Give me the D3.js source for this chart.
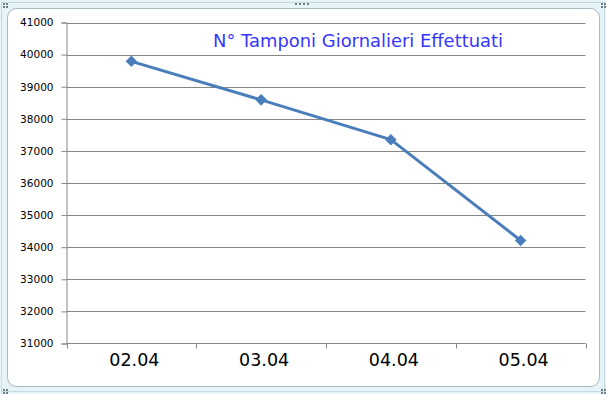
<!DOCTYPE html>
<html>
<head>
<meta charset="utf-8">
<script src="https://cdn.jsdelivr.net/npm/d3@7"></script>
<style>
  body { margin: 0; background: #e6f4f8; }
  svg { display: block; }
</style>
</head>
<body>
<div id="chart"></div>
<script>
// data
const days = ["02.04", "03.04", "04.04", "05.04"];
const tamponi = [39790, 38590, 37350, 34210];
const yTicks = [31000, 32000, 33000, 34000, 35000, 36000, 37000, 38000, 39000, 40000, 41000];
const title = "N° Tamponi Giornalieri Effettuati";

const W = 606, H = 394;
const plot = { left: 66.5, right: 585.5, top: 22.5, bottom: 343.5 };

const svg = d3.select("#chart")
    .append("svg")
        .attr("width", W)
        .attr("height", H);

// spreadsheet backdrop + chart frame
svg.append("rect")
    .attr("x", 0).attr("y", 0).attr("width", W).attr("height", H)
    .attr("fill", "#e6f4f8");
svg.append("rect")
    .attr("x", 1.5).attr("y", 2.5).attr("width", W - 3).attr("height", H - 5)
    .attr("fill", "none").attr("stroke", "#c4dbe3");
svg.append("rect")
    .attr("x", 7.5).attr("y", 8.5).attr("width", 592).attr("height", 378)
    .attr("rx", 9)
    .attr("fill", "#fff")
    .attr("stroke", "#a9b8c0");

// little resize handles
const handles = [[3, 3], [601, 3], [3, 389], [601, 389]];
svg.selectAll(".handle")
    .data(handles)
    .join("g")
        .attr("class", "handle")
        .attr("transform", d => `translate(${d[0]},${d[1]})`)
        .selectAll("rect")
        .data([[0, 0], [3, 0], [0, 3], [3, 3]])
        .join("rect")
            .attr("x", d => d[0]).attr("y", d => d[1])
            .attr("width", 2).attr("height", 2)
            .attr("fill", "#6f7f88");
svg.selectAll(".hdot")
    .data([0, 1, 2, 3])
    .join("rect")
        .attr("class", "hdot")
        .attr("x", d => 295 + d * 4).attr("y", 3)
        .attr("width", 2).attr("height", 2)
        .attr("fill", "#6f7f88");

const x = d3.scaleBand()
    .domain(days)
    .range([plot.left, plot.right]);

const y = d3.scaleLinear()
    .domain([31000, 41000])
    .range([plot.bottom, plot.top]);

// gridlines
svg.append("g")
    .selectAll("line")
    .data(yTicks.slice(1))
    .join("line")
        .attr("x1", plot.left).attr("x2", plot.right)
        .attr("y1", d => Math.round(y(d)) + 0.5)
        .attr("y2", d => Math.round(y(d)) + 0.5)
        .attr("stroke", "#868686");

// y axis
const yAxis = svg.append("g")
    .attr("transform", `translate(${plot.left},0)`)
    .call(d3.axisLeft(y).tickValues(yTicks).tickFormat(d3.format("d")).tickSizeOuter(0).tickSize(5).tickPadding(8));
yAxis.selectAll("line, path").attr("stroke", "#868686");
yAxis.selectAll("text")
    .attr("font-family", "DejaVu Sans, Verdana, sans-serif")
    .attr("font-size", "10.5px")
    .attr("fill", "#000");

// x axis with ticks between categories
const xAxis = svg.append("g")
    .attr("transform", `translate(0,${plot.bottom})`);
xAxis.append("line")
    .attr("x1", plot.left).attr("x2", plot.right)
    .attr("stroke", "#868686");
xAxis.selectAll(".tk")
    .data(days.concat(["end"]))
    .join("line")
        .attr("class", "tk")
        .attr("x1", (d, i) => Math.round(plot.left + i * x.bandwidth()) + 0.5)
        .attr("x2", (d, i) => Math.round(plot.left + i * x.bandwidth()) + 0.5)
        .attr("y1", 0).attr("y2", 5)
        .attr("stroke", "#868686");
xAxis.selectAll("text")
    .data(days)
    .join("text")
        .attr("x", d => x(d) + x.bandwidth() / 2 + 3)
        .attr("y", 22)
        .attr("text-anchor", "middle")
        .attr("font-family", "DejaVu Sans, Verdana, sans-serif")
        .attr("font-size", "17.5px")
        .attr("fill", "#000")
        .text(d => d);

// line + markers
const line = d3.line()
    .x((d, i) => x(days[i]) + x.bandwidth() / 2)
    .y(d => y(d));

svg.append("path")
    .datum(tamponi)
    .attr("d", line)
    .attr("fill", "none")
    .attr("stroke", "#4a7ebb")
    .attr("stroke-width", 3)
    .attr("stroke-linejoin", "round");

svg.selectAll(".pt")
    .data(tamponi)
    .join("path")
        .attr("class", "pt")
        .attr("transform", (d, i) => `translate(${x(days[i]) + x.bandwidth() / 2},${y(d)})`)
        .attr("d", d3.symbol(d3.symbolDiamond2, 85))
        .attr("fill", "#4a7ebb");

// title
svg.append("text")
    .attr("x", 358)
    .attr("y", 47)
    .attr("text-anchor", "middle")
    .attr("font-family", "'Comic Sans MS', 'DejaVu Sans', sans-serif")
    .attr("font-size", "18px")
    .attr("fill", "#3636ff")
    .attr("textLength", 290)
    .attr("lengthAdjust", "spacingAndGlyphs")
    .text(title);
</script>
</body>
</html>
